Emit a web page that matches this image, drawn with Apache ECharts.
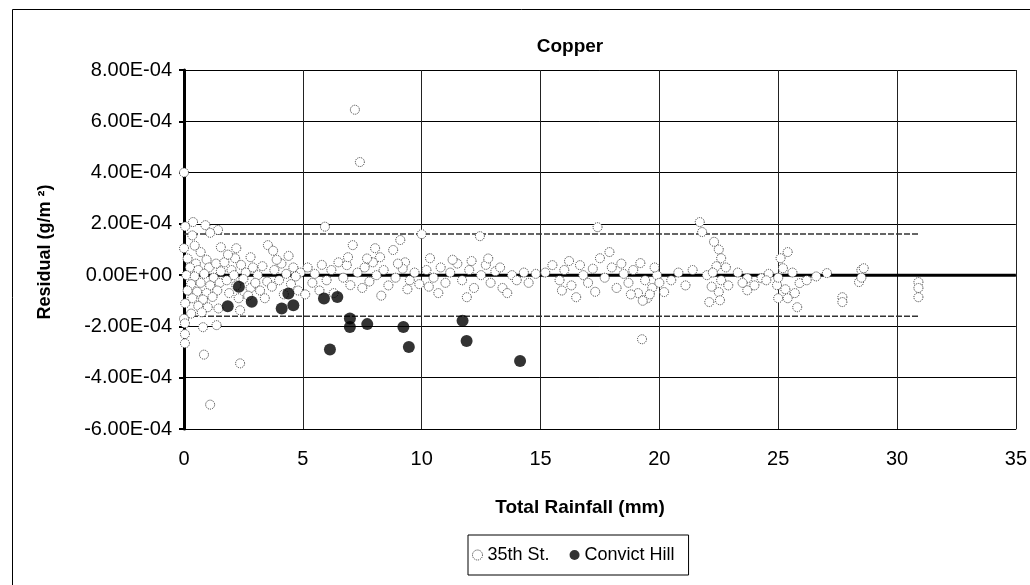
<!DOCTYPE html>
<html>
<head>
<meta charset="utf-8">
<script src="https://cdn.jsdelivr.net/npm/echarts@6/dist/echarts.min.js"></script>
<style>
html,body{margin:0;padding:0;background:#fff;}
#chart{width:1030px;height:585px;}
</style>
</head>
<body>
<div id="chart"></div>
<script>
// ---- data ----
const chartTitle = 'Copper';
const xAxisTitle = 'Total Rainfall (mm)';
const yAxisTitle = 'Residual (g/m \u00B2)';
const seriesNames = ['35th St.', 'Convict Hill'];
const xTicks = [0, 5, 10, 15, 20, 25, 30, 35];
const yTicks = [-6e-4, -4e-4, -2e-4, 0, 2e-4, 4e-4, 6e-4, 8e-4];

// 35th St. : [rainfall (mm), residual (g/m2)]
const st35 = [
  [0,4.0e-4],[0.05,1.9e-4],[0.38,2.07e-4],[0.35,1.55e-4],[0,1.05e-4],[0.45,1.15e-4],[0.7,0.9e-4],[0.15,0.65e-4],[1.43,1.76e-4],[1.1,1.65e-4],[0.9,1.95e-4],
  [0.5,0.45e-4],[0.95,0.6e-4],[0.25,0.3e-4],[0.6,0.2e-4],[1.05,0.3e-4],[1.35,0.45e-4],[0.1,0.0],[0.45,-0.05e-4],[0.85,0.05e-4],[1.25,-0.1e-4],[1.55,0.15e-4],
  [0.3,-0.35e-4],[0.7,-0.3e-4],[1.1,-0.4e-4],[1.5,-0.3e-4],[0.15,-0.6e-4],[0.55,-0.65e-4],[0.95,-0.7e-4],[1.4,-0.6e-4],[0.35,-0.9e-4],[0.8,-0.95e-4],[1.2,-0.85e-4],
  [0.05,-1.1e-4],[0.6,-1.2e-4],[1.0,-1.25e-4],[0.3,-1.5e-4],[0.75,-1.45e-4],[0.0,-1.7e-4],[1.45,-1.3e-4],
  [0.04,-1.88e-4],[0.8,-2.03e-4],[1.37,-1.95e-4],[0.04,-2.3e-4],[0.04,-2.66e-4],[0.84,-3.1e-4],[1.1,-5.05e-4],
  [1.55,1.09e-4],[2.2,1.05e-4],[2.15,0.66e-4],[3.53,1.17e-4],[3.75,0.95e-4],
  [1.7,0.5e-4],[2.0,0.2e-4],[2.4,0.4e-4],[2.6,0.1e-4],[2.9,0.3e-4],[1.8,-0.2e-4],[2.2,-0.4e-4],[2.5,-0.15e-4],[2.8,-0.5e-4],[3.1,0.0],[3.3,0.35e-4],[3.5,-0.25e-4],
  [3.8,0.2e-4],[4.1,0.45e-4],[4.3,0.05e-4],[4.6,0.3e-4],[4.9,0.1e-4],[3.2,-0.6e-4],[3.7,-0.45e-4],[4.0,-0.2e-4],[4.5,-0.35e-4],[4.8,-0.6e-4],[1.9,-0.7e-4],[2.3,-0.9e-4],
  [2.36,-1.37e-4],[2.7,-0.8e-4],[3.4,-0.9e-4],[4.2,-0.75e-4],[2.36,-3.44e-4],[1.85,0.8e-4],[2.8,0.7e-4],[3.9,0.6e-4],[4.4,0.75e-4],[3.0,-0.3e-4],[4.7,-0.05e-4],[2.1,0.0],
  [5.2,0.3e-4],[5.5,0.05e-4],[5.8,0.4e-4],[5.93,1.89e-4],[5.4,-0.3e-4],[5.7,-0.6e-4],[6.0,-0.2e-4],[6.2,0.2e-4],[6.5,0.5e-4],[6.85,0.39e-4],[6.7,-0.1e-4],[7.0,-0.39e-4],
  [7.1,1.17e-4],[7.19,6.45e-4],[7.4,4.41e-4],[7.3,0.1e-4],[7.6,0.3e-4],[7.95,0.5e-4],[8.04,1.05e-4],[8.25,0.7e-4],[7.5,-0.5e-4],[7.8,-0.25e-4],[8.1,0.0],[8.4,0.2e-4],
  [8.8,0.98e-4],[8.6,-0.4e-4],[8.9,-0.1e-4],[9.1,1.37e-4],[9.3,0.5e-4],[9.2,0.25e-4],[9.5,-0.2e-4],[9.7,0.1e-4],[9.4,-0.55e-4],[9.9,-0.35e-4],[6.3,-0.7e-4],[8.3,-0.8e-4],
  [5.1,-0.75e-4],[9.0,0.45e-4],[6.9,0.7e-4],[7.7,0.65e-4],
  [10.0,1.6e-4],[10.35,0.66e-4],[10.2,0.2e-4],[10.5,-0.1e-4],[10.8,0.3e-4],[10.3,-0.45e-4],[11.0,-0.3e-4],[11.2,0.1e-4],[11.5,0.45e-4],[11.7,-0.2e-4],[11.9,-0.86e-4],
  [12.0,0.2e-4],[12.2,-0.5e-4],[12.45,1.52e-4],[12.5,0.0],[12.7,0.4e-4],[12.9,-0.3e-4],[13.1,0.15e-4],[13.4,-0.5e-4],[13.6,-0.7e-4],[13.3,0.3e-4],[13.8,0.0],[14.0,-0.2e-4],
  [14.3,0.1e-4],[14.5,-0.3e-4],[14.8,0.05e-4],[11.3,0.6e-4],[12.8,0.65e-4],[10.7,-0.7e-4],[12.1,0.55e-4],
  [15.2,0.1e-4],[15.5,0.39e-4],[15.8,-0.2e-4],[16.0,0.2e-4],[16.3,-0.4e-4],[16.5,-0.86e-4],[16.66,0.39e-4],[16.8,0.0],[17.0,-0.3e-4],[17.2,0.25e-4],[17.4,1.87e-4],
  [17.5,0.66e-4],[17.9,0.9e-4],[17.7,-0.1e-4],[18.0,0.3e-4],[18.2,-0.5e-4],[18.5,0.05e-4],[18.7,-0.3e-4],[18.9,0.2e-4],[19.2,0.47e-4],[19.27,-2.5e-4],[19.4,-0.2e-4],
  [19.5,-0.9e-4],[19.7,-0.5e-4],[19.9,0.0],[20.2,-0.66e-4],[18.4,0.45e-4],[15.9,-0.6e-4],[16.2,0.55e-4],[17.3,-0.65e-4],[19.1,-0.7e-4],[18.8,-0.75e-4],
  [19.6,-0.75e-4],[19.3,-1.0e-4],[20.0,-0.3e-4],[19.8,0.3e-4],
  [20.5,-0.2e-4],[20.8,0.1e-4],[21.1,-0.4e-4],[21.4,0.2e-4],[21.7,2.07e-4],[21.8,1.68e-4],[22.0,0.0],[22.3,1.3e-4],[22.5,1.0e-4],[22.6,0.66e-4],[22.4,0.35e-4],
  [22.25,0.1e-4],[22.6,-0.2e-4],[22.2,-0.45e-4],[22.5,-0.66e-4],[22.55,-0.98e-4],[22.1,-1.05e-4],[22.8,0.3e-4],[22.9,-0.4e-4],[23.3,0.1e-4],[23.7,-0.12e-4],
  [23.7,-0.59e-4],[24.3,-0.12e-4],[24.0,-0.4e-4],[24.6,0.05e-4],[24.95,-0.39e-4],[23.5,-0.3e-4],[24.5,-0.2e-4],
  [25.1,0.66e-4],[25.2,0.27e-4],[25.0,-0.1e-4],[25.0,-0.9e-4],[25.4,-0.9e-4],[25.8,-1.25e-4],[25.9,-0.31e-4],[25.4,0.9e-4],[25.6,0.1e-4],[25.3,-0.55e-4],[25.7,-0.7e-4],
  [26.2,-0.2e-4],[26.6,-0.05e-4],[27.05,0.08e-4],[27.7,-0.86e-4],[27.7,-1.05e-4],[28.5,0.2e-4],[28.6,0.27e-4],[28.4,-0.27e-4],[28.5,-0.1e-4],
  [30.9,-0.27e-4],[30.9,-0.5e-4],[30.9,-0.86e-4]
];

// Convict Hill : [rainfall (mm), residual (g/m2)]
const convictHill = [
  [1.84,-1.21e-4],[2.31,-0.45e-4],[2.85,-1.04e-4],[4.11,-1.3e-4],[4.39,-0.72e-4],[4.6,-1.17e-4],
  [5.89,-0.91e-4],[6.14,-2.9e-4],[6.45,-0.85e-4],[6.98,-1.69e-4],[6.98,-2.02e-4],[7.71,-1.91e-4],
  [9.23,-2.02e-4],[9.46,-2.8e-4],[11.72,-1.78e-4],[11.89,-2.57e-4],[14.14,-3.35e-4]
];

// reference lines
const zeroLineX = [0, 35];
const bandLineX = [0, 30.9];
const bandLevel = 1.6e-4;

// ---- chart ----
function sciLabel(v) {
  v = Math.round(v * 1e8) / 1e8;
  if (Math.abs(v) < 1e-12) return '0.00E+00';
  const s = v.toExponential(2);
  const parts = s.split('e');
  const sign = parts[1][0] === '-' ? '-' : '+';
  const d = parts[1].replace(/^[+-]/, '');
  return parts[0] + 'E' + sign + (d.length < 2 ? '0' + d : d);
}

const FONT = 'Liberation Sans, Arial, sans-serif';
const chart = echarts.init(document.getElementById('chart'), null, {renderer: 'canvas'});
chart.setOption({
  animation: false,
  backgroundColor: '#fff',
  grid: {left: 184, top: 70, width: 832, height: 359, containLabel: false},
  xAxis: {
    type: 'value', min: xTicks[0], max: xTicks[xTicks.length - 1], interval: 5,
    axisLine: {show: true, onZero: false, lineStyle: {color: '#000', width: 1}},
    axisTick: {show: false},
    axisLabel: {color: '#000', fontSize: 20, fontFamily: FONT, margin: 20},
    splitLine: {show: true, lineStyle: {color: '#222', width: 1}}
  },
  yAxis: {
    type: 'value', min: yTicks[0], max: yTicks[yTicks.length - 1], interval: 2e-4,
    axisLine: {show: true, onZero: false, lineStyle: {color: '#000', width: 3}},
    axisTick: {show: true, length: 5, lineStyle: {color: '#000', width: 2}},
    axisLabel: {color: '#000', fontSize: 20, fontFamily: FONT, margin: 12, formatter: sciLabel},
    splitLine: {show: true, lineStyle: {color: '#000', width: 1}}
  },
  legend: {
    data: [
      {name: seriesNames[0], icon: 'circle', itemStyle: {color: '#fff', borderColor: '#333', borderWidth: 1, borderType: 'dotted'}},
      {name: seriesNames[1], icon: 'circle'}
    ],
    left: 468, top: 535,
    orient: 'horizontal',
    itemWidth: 10, itemHeight: 10, itemGap: 20,
    padding: [11, 14, 11, 4],
    borderColor: '#000', borderWidth: 1, borderRadius: 0,
    textStyle: {color: '#000', fontSize: 18, fontFamily: FONT}
  },
  graphic: [
    {type: 'rect', left: 10, top: 7, shape: {width: 1100, height: 700}, style: {fill: 'none', stroke: '#000', lineWidth: 1}, z: -10, silent: true},
    {type: 'text', x: 570, y: 47, style: {text: chartTitle, fill: '#000', font: 'bold 19px ' + FONT, align: 'center', verticalAlign: 'middle'}},
    {type: 'text', x: 580, y: 508, style: {text: xAxisTitle, fill: '#000', font: 'bold 19px ' + FONT, align: 'center', verticalAlign: 'middle'}},
    {type: 'text', x: 45, y: 252, rotation: Math.PI / 2, style: {text: yAxisTitle, fill: '#000', font: 'bold 18px ' + FONT, align: 'center', verticalAlign: 'middle'}}
  ],
  series: [
    {
      name: 'zero', type: 'line', data: zeroLineX.map(x => [x, 0]), symbol: 'none',
      lineStyle: {color: '#000', width: 3}, z: 1, silent: true
    },
    {
      name: 'upper', type: 'line', data: bandLineX.map(x => [x, bandLevel]), symbol: 'none',
      lineStyle: {color: '#333', width: 1.5, type: [6, 2]}, z: 1, silent: true
    },
    {
      name: 'lower', type: 'line', data: bandLineX.map(x => [x, -bandLevel]), symbol: 'none',
      lineStyle: {color: '#333', width: 1.5, type: [6, 2]}, z: 1, silent: true
    },
    {
      name: seriesNames[0], type: 'scatter', data: st35, symbol: 'circle', symbolSize: 9, z: 3,
      itemStyle: {color: '#fff', borderColor: '#333', borderWidth: 1, borderType: 'dotted', opacity: 1}
    },
    {
      name: seriesNames[1], type: 'scatter', data: convictHill, symbol: 'circle', symbolSize: 12, z: 4,
      itemStyle: {color: '#000'}
    }
  ]
});
</script>
</body>
</html>
